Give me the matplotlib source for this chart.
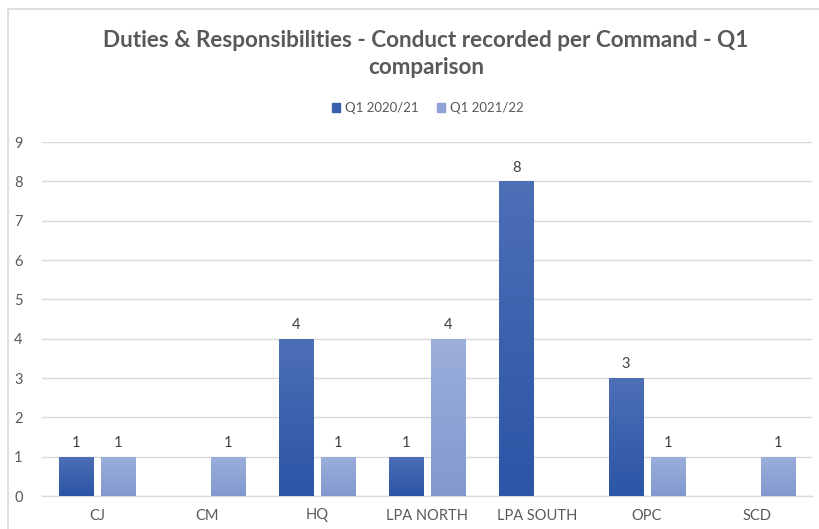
import matplotlib
matplotlib.use("Agg")
import matplotlib.pyplot as plt
import numpy as np
from matplotlib.patches import Rectangle
from matplotlib.colors import LinearSegmentedColormap

plt.rcParams['font.family'] = ['Lato', 'DejaVu Sans']

categories = ["CJ", "CM", "HQ", "LPA NORTH", "LPA SOUTH", "OPC", "SCD"]
series_names = ["Q1 2020/21", "Q1 2021/22"]
q1_2020 = [1, 0, 4, 1, 8, 3, 0]
q1_2021 = [1, 1, 1, 4, 0, 1, 1]
yticks = list(range(0, 10))

W, H = 819, 529
fig = plt.figure(figsize=(W / 100, H / 100), dpi=100)

# outer chart border (runs off the right and bottom edges)
fig.patches.append(Rectangle((8 / W, -0.1), 1.2, 1 - 9 / H + 0.1,
                             transform=fig.transFigure, fill=False,
                             edgecolor="#d9d9d9", linewidth=1.2))

ax = fig.add_axes([42 / W, 1 - 496 / H, (812 - 42) / W, (496 - 142) / H])
ax.set_xlim(-0.5, len(categories) - 0.5)
ax.set_ylim(0, 9)

x = np.arange(len(categories))
width = 0.31
offset = 0.19

grads = [
    ("#4d6fb6", "#2b55a6", "#3a60ae"),
    ("#9cafdb", "#8299cf", "#8fa3d5"),
]

for vals, sgn, (ctop, cbot, cmid), name in zip([q1_2020, q1_2021], [-1, 1], grads, series_names):
    bars = ax.bar(x + sgn * offset, vals, width, color=cmid, label=name, zorder=3)
    cmap = LinearSegmentedColormap.from_list("g", [cbot, ctop])
    for b, v in zip(bars, vals):
        if v <= 0:
            continue
        x0, w = b.get_x(), b.get_width()
        # soft shadow to the right
        ax.add_patch(Rectangle((x0 + 0.012, 0), w, v, facecolor="#000000",
                               alpha=0.08, zorder=2, linewidth=0))
        grad = np.linspace(0, 1, 256).reshape(-1, 1)
        im = ax.imshow(grad, cmap=cmap, origin="lower", aspect="auto",
                       extent=(x0, x0 + w, 0, v), zorder=3.5)
        im.set_clip_path(b)
        ax.text(b.get_x() + w / 2, v + 0.17, f"{v}", ha="center", va="bottom",
                fontsize=10.5, color="#404040", zorder=5)

ax.set_xlim(-0.5, len(categories) - 0.5)
ax.set_ylim(0, 9)
ax.set_yticks(yticks)
ax.set_xticks(x)
ax.set_xticklabels(categories)
ax.tick_params(axis="both", length=0, labelsize=10.5, colors="#595959")
ax.tick_params(axis="y", pad=14)
ax.tick_params(axis="x", pad=9)
ax.grid(axis="y", color="#d9d9d9", linewidth=1, zorder=0)
ax.set_axisbelow(True)
for s in ["top", "right", "left"]:
    ax.spines[s].set_visible(False)
ax.spines["bottom"].set_color("#d9d9d9")
ax.spines["bottom"].set_linewidth(1)

fig.text(426 / W, 1 - 40 / H, "Duties & Responsibilities - Conduct recorded per Command - Q1",
         ha="center", va="center", fontsize=16.2, fontweight="bold", color="#595959")
fig.text(426 / W, 1 - 68 / H, "comparison",
         ha="center", va="center", fontsize=16.2, fontweight="bold", color="#595959")

handles = [Rectangle((0, 0), 1, 1, color=grads[0][2]), Rectangle((0, 0), 1, 1, color=grads[1][2])]
fig.legend(handles, series_names, loc="center", bbox_to_anchor=(428 / W, 1 - 108 / H),
           ncol=2, frameon=False, fontsize=9.5, labelcolor="#595959",
           handlelength=0.6, handleheight=0.6, handletextpad=0.4, columnspacing=1.4)

fig.savefig("out.png", dpi=100)
